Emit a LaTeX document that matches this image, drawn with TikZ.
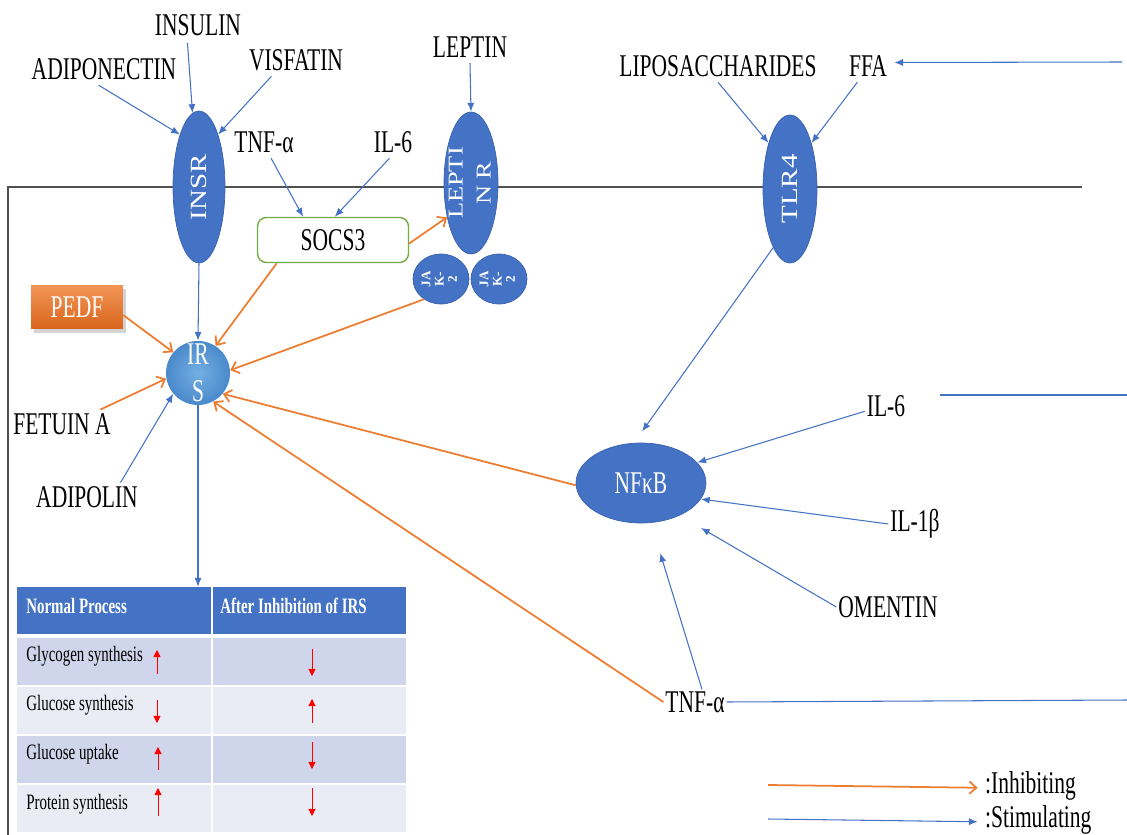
\documentclass[tikz,border=0pt]{standalone}
\usepackage{graphicx}
\usepackage{fontspec}
\setmainfont{Liberation Serif}[FakeStretch=0.68]
\newfontfamily\rotfont{Liberation Serif}
\usetikzlibrary{shapes.geometric,arrows.meta,shadows,calc}
\definecolor{recblue}{HTML}{4472C4}
\definecolor{recedge}{HTML}{3A62AD}
\definecolor{stimblue}{HTML}{4472C4}
\definecolor{inhorange}{HTML}{ED7D31}
\definecolor{socsgreen}{HTML}{70AD47}
\definecolor{rowdark}{HTML}{CFD5EA}
\definecolor{rowlight}{HTML}{E9EBF5}
\definecolor{irsin}{HTML}{74AEE3}
\definecolor{irsout}{HTML}{4A8ACB}
\definecolor{pedftop}{HTML}{F29657}
\definecolor{pedfbot}{HTML}{D9651C}
\definecolor{membrane}{HTML}{505050}
\newcommand{\myvtext}[1]{\rotatebox{90}{\scalebox{1}[0.8]{#1}}}
\newcommand{\jaktext}{\makebox[0pt]{\rotatebox{90}{\rotfont\bfseries\fontsize{7.5}{7.5}\selectfont\begin{tabular}{@{}c@{}}JA\\K-\\2\end{tabular}}}}
\begin{document}
\begin{tikzpicture}[x=0.02cm,y=-0.02cm,
  lbl/.style={font=\fontsize{18}{21}\selectfont, inner sep=1pt},
  rec/.style={ellipse, fill=recblue, draw=recedge, line width=0.4pt, inner sep=0pt, text=white, font=\rotfont\fontsize{16.5}{22}\selectfont},
  stim/.style={draw=stimblue, line width=0.6pt, -{Latex[length=5pt,width=4pt]}},
  stimline/.style={draw=stimblue, line width=0.6pt},
  inh/.style={draw=inhorange, line width=1pt, -{Straight Barb[length=4pt,width=7pt]}},
  redarr/.style={draw=red, line width=0.5pt, -{Triangle[length=4pt,width=4pt]}},
  cellA/.style={rectangle, minimum width=3.88cm, minimum height=0.94cm, inner sep=0pt},
  cellB/.style={rectangle, minimum width=3.86cm, minimum height=0.94cm, inner sep=0pt},
  celltxt/.style={font=\fontsize{12.5}{14}\selectfont, inner sep=0pt, anchor=west},
  headtxt/.style={font=\bfseries\fontsize{12.5}{14}\selectfont, text=white, inner sep=0pt, anchor=west}
]
\useasboundingbox (0,0) rectangle (1127,835);

% membrane
\draw[membrane, line width=0.8pt] (8,835) -- (8,187) -- (1082,187);

% receptors
\node[rec, minimum width=1.04cm, minimum height=3.04cm] (insr) at (199,187) {\myvtext{INSR}};
\node[rec, minimum width=1.12cm, minimum height=1.0cm] (jakl) at (441,279) {\jaktext};
\node[rec, minimum width=1.12cm, minimum height=1.0cm] (jakr) at (499,279) {\jaktext};
\node[rec, minimum width=1.08cm, minimum height=2.84cm, font=\rotfont\fontsize{15}{20}\selectfont] (lepr) at (471,183) {\makebox[0pt]{\myvtext{\begin{tabular}{@{}c@{}}LEPTI\\N R\end{tabular}}}};
\node[rec, minimum width=1.08cm, minimum height=2.96cm] (tlr) at (790,189) {\myvtext{TLR4}};

% inner nodes
\node[rectangle, rounded corners=5pt, draw=socsgreen, line width=0.8pt, fill=white, minimum width=3.02cm, minimum height=0.9cm, font=\fontsize{18}{21}\selectfont] (socs) at (333,240) {SOCS3};
\node[rectangle, top color=pedftop, bottom color=pedfbot, minimum width=1.84cm, minimum height=0.88cm, text=white, font=\fontsize{18}{21}\selectfont, drop shadow={opacity=0.35, shadow xshift=1.5pt, shadow yshift=-2pt}] (pedf) at (77,307) {PEDF};
\node[circle, shading=radial, inner color=irsin, outer color=irsout, minimum size=1.28cm, inner sep=0pt, text=white, font=\fontsize{18}{21}\selectfont, align=center] (irs) at (198,373) {IR\\S};
\node[ellipse, fill=recblue, draw=recedge, line width=0.4pt, minimum width=2.6cm, minimum height=1.6cm, inner sep=0pt, text=white, font=\fontsize{18}{21}\selectfont] (nfkb) at (641,483) {NFκB};

% labels
\node[lbl] (insulin) at (198,25) {INSULIN};
\node[lbl] (adipo) at (104,69) {ADIPONECTIN};
\node[lbl] (visf) at (296,60) {VISFATIN};
\node[lbl] (leptin) at (470,47) {LEPTIN};
\node[lbl] (tnfa) at (264,142) {TNF-α};
\node[lbl] (ilsix) at (393,142) {IL-6};
\node[lbl] (lps) at (718,66) {LIPOSACCHARIDES};
\node[lbl] (ffa) at (868,66) {FFA};
\node[lbl] (fetuin) at (62,424) {FETUIN A};
\node[lbl] (adipol) at (87,497) {ADIPOLIN};
\node[lbl] (ilsixb) at (886,406) {IL-6};
\node[lbl] (ilb) at (915,524) {IL-1β};
\node[lbl] (oment) at (888,607) {OMENTIN};
\node[lbl] (tnfb) at (695,702) {TNF-α};

\coordinate (ffain) at (1122,62);
\coordinate (il6l) at (940,395);
\coordinate (il6out) at (1127,395);
\coordinate (tnfout) at (1127,700);

% stimulating connectors
\draw[stim] ([xshift=-3pt,yshift=-2pt]adipo.south) -- (insr.110);
\draw[stim] ([xshift=-6pt,yshift=-3pt]insulin.south) -- (insr.95);
\draw[stim] ([xshift=-14pt,yshift=-2pt]visf.south) -- (insr.70);
\draw[stim] ([yshift=-2pt]leptin.south) -- (lepr.north);
\draw[stim] ([xshift=4pt,yshift=-2pt]tnfa.south) -- ([xshift=-17pt]socs.north);
\draw[stim] ([xshift=-2pt,yshift=-2pt]ilsix.south) -- ([xshift=1pt]socs.north);
\draw[stim] ([yshift=-2pt]lps.south) -- (tlr.115);
\draw[stim] ([xshift=-6pt,yshift=-2pt]ffa.south) -- (tlr.65);
\draw[stim] (ffain) -- ([xshift=3pt,yshift=2pt]ffa.east);
\draw[stim] (insr.south) -- (irs.north);
\draw[stim] ([xshift=-11pt,yshift=1pt]adipol.north east) -- (irs.220);
\draw[stim, shorten >=8pt] (tlr.254) -- (nfkb.100);
\draw[stim] ([yshift=-3pt]ilsixb.west) -- (nfkb.20);
\draw[stim] (ilb.west) -- (nfkb.-15);
\draw[stim, shorten >=14pt] (oment.west) -- (nfkb.-40);
\draw[stim, shorten >=18pt] ([xshift=4pt]tnfb.north) -- (nfkb.-76);
\draw[stimline] (il6l) -- (il6out);
\draw[stimline] (tnfb.east) -- (tnfout);

% inhibiting connectors
\draw[inh] ([yshift=-2pt]socs.east) -- (lepr.235);
\draw[inh] ([xshift=-32pt]socs.south) -- (irs.57);
\draw[inh] (pedf.-10) -- (irs.140);
\draw[inh] (jakl.230) -- (irs.5);
\draw[inh] ([xshift=-7pt,yshift=1pt]fetuin.north east) -- (irs.190);
\draw[inh] (nfkb.182) -- (irs.-40);
\draw[inh] (tnfb.west) -- (irs.-62);

% table
\node[cellA, fill=recblue] (h1) at (114,610.5) {};
\node[cellB, fill=recblue] (h2) at (309.5,610.5) {};
\node[cellA, fill=rowdark] (r1a) at (114,661.5) {};
\node[cellB, fill=rowdark] (r1b) at (309.5,661.5) {};
\node[cellA, fill=rowlight] (r2a) at (114,710.5) {};
\node[cellB, fill=rowlight] (r2b) at (309.5,710.5) {};
\node[cellA, fill=rowdark] (r3a) at (114,759.5) {};
\node[cellB, fill=rowdark] (r3b) at (309.5,759.5) {};
\node[cellA, fill=rowlight] (r4a) at (114,808.5) {};
\node[cellB, fill=rowlight] (r4b) at (309.5,808.5) {};
\draw[stim] (irs.south) -- (irs.south |- h1.north);

\node[headtxt] (th1) at (26,606) {Normal Process};
\node[headtxt] (th2) at (220,606) {After Inhibition of IRS};
\node[celltxt] (t1) at (26,656) {Glycogen synthesis};
\node[celltxt] (t2) at (26,705) {Glucose synthesis};
\node[celltxt] (t3) at (26,754) {Glucose uptake};
\node[celltxt] (t4) at (26,804) {Protein synthesis};

\draw[redarr] (157,674) -- (157,650);
\draw[redarr] (312,649) -- (312,676);
\draw[redarr] (157,700) -- (157,723);
\draw[redarr] (312,723) -- (312,699);
\draw[redarr] (158,770) -- (158,747);
\draw[redarr] (312,742) -- (312,769);
\draw[redarr] (158,816) -- (158,788);
\draw[redarr] (312,788) -- (312,816);

% legend
\coordinate (lgA) at (768,785);
\coordinate (lgB) at (768,819);
\node[lbl, anchor=west] (lgInh) at (983,786) {:Inhibiting};
\node[lbl, anchor=west] (lgStim) at (983,820) {:Stimulating};
\draw[inh] (lgA) -- ([xshift=-3pt,yshift=-1pt]lgInh.west);
\draw[stim] (lgB) -- ([xshift=-3pt,yshift=-1pt]lgStim.west);
\end{tikzpicture}
\end{document}
